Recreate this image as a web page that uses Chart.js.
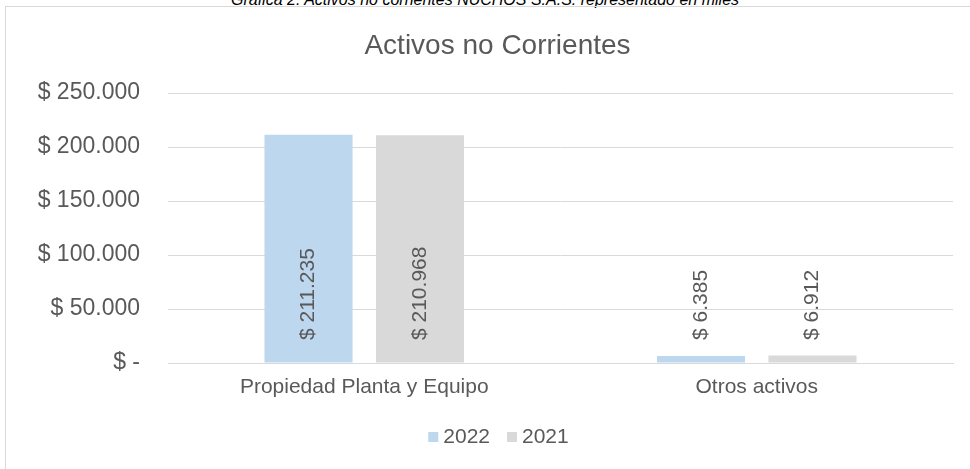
<!DOCTYPE html>
<html>
<head>
<meta charset="utf-8">
<script src="https://cdn.jsdelivr.net/npm/chart.js@4.4.1/dist/chart.umd.min.js"></script>
<style>
  html, body { margin: 0; padding: 0; background: #ffffff; }
  body { width: 970px; height: 469px; position: relative; overflow: hidden; }
  .caption {
    position: absolute; left: 0; top: -9px; width: 970px; text-align: center;
    font-family: "Liberation Sans", Arial, sans-serif; font-style: italic;
    font-size: 16px; line-height: 18px; color: #000000; white-space: nowrap;
  }
  .frame {
    position: absolute; left: 5px; top: 6px; width: 1000px; height: 480px;
    border: 1px solid #d9d9d9; box-sizing: border-box;
  }
  #chartBox { position: absolute; left: 0; top: 0; width: 970px; height: 469px; }
</style>
</head>
<body>
<div class="caption">Gráfica 2. Activos no corrientes NUCHOS S.A.S. representado en miles</div>
<div class="frame"></div>
<div id="chartBox"><canvas id="myChart" width="970" height="469"></canvas></div>
<script>
/******************************************* data **/
const chartTitle = "Activos no Corrientes";
const categories = ["Propiedad Planta y Equipo", "Otros activos"];
const seriesNames = ["2022", "2021"];
const values2022 = [211235, 6385];
const values2021 = [210968, 6912];
const yTicks = [0, 50000, 100000, 150000, 200000, 250000];

const textColor = "#595959";
const fontFamily = "'Liberation Sans', Arial, sans-serif";
// the excel chart area runs past the right edge, so title/legend sit right of canvas center
const headerCenterX = 497.5;

/******************************************* helpers **/
// "$ 211.235" style money labels
function money(v) {
  if (v === 0) return "$ -";
  return "$ " + String(Math.round(v)).replace(/\B(?=(\d{3})+(?!\d))/g, ".");
}

// rotated value labels sitting near the base of each bar
const barLabels = {
  id: "barLabels",
  afterDatasetsDraw(chart) {
    const ctx = chart.ctx;
    const base = chart.scales.y.getPixelForValue(0);
    chart.data.datasets.forEach((ds, i) => {
      chart.getDatasetMeta(i).data.forEach((bar, j) => {
        ctx.save();
        ctx.translate(bar.x, base - 23);
        ctx.rotate(-Math.PI / 2);
        ctx.font = "21px " + fontFamily;
        ctx.fillStyle = textColor;
        ctx.textAlign = "left";
        ctx.textBaseline = "middle";
        ctx.fillText(money(ds.data[j]), 0, 0);
        ctx.restore();
      });
    });
  },
};

// title + legend drawn by hand so they can be centred like the excel original
const header = {
  id: "header",
  afterDraw(chart) {
    const ctx = chart.ctx;
    ctx.save();
    ctx.fillStyle = textColor;
    ctx.textBaseline = "middle";

    // title
    ctx.font = "28px " + fontFamily;
    ctx.textAlign = "center";
    ctx.fillText(chartTitle, headerCenterX, 46);

    // legend
    ctx.font = "21px " + fontFamily;
    ctx.textAlign = "left";
    const box = 10;
    const gapText = 5;
    const gapItem = 17;
    const items = chart.data.datasets.map((ds) => ({
      label: ds.label,
      color: ds.backgroundColor,
      w: ctx.measureText(ds.label).width,
    }));
    let total = 0;
    items.forEach((it, i) => {
      total += box + gapText + it.w + (i > 0 ? gapItem : 0);
    });
    let x = headerCenterX + 1 - total / 2;
    const y = 437;
    items.forEach((it) => {
      ctx.fillStyle = it.color;
      ctx.fillRect(x, y - 5, box, box);
      ctx.fillStyle = textColor;
      ctx.fillText(it.label, x + box + gapText, y);
      x += box + gapText + it.w + gapItem;
    });
    ctx.restore();
  },
};

/******************************************* chart **/
const ctx = document.getElementById("myChart");

const myChart = new Chart(ctx, {
  type: "bar",
  data: {
    labels: categories,
    datasets: [
      {
        label: seriesNames[0],
        data: values2022,
        backgroundColor: "#bdd7ee",
        categoryPercentage: 0.568,
        barPercentage: 0.79,
      },
      {
        label: seriesNames[1],
        data: values2021,
        backgroundColor: "#d9d9d9",
        categoryPercentage: 0.568,
        barPercentage: 0.79,
      },
    ],
  },
  options: {
    responsive: false,
    animation: false,
    layout: { padding: { left: 0, right: 17, top: 93, bottom: 54 } },
    plugins: {
      title: { display: false },
      legend: { display: false },
      tooltip: { enabled: false },
    },
    scales: {
      x: {
        grid: { display: false, drawTicks: false },
        border: { display: true, color: "#d9d9d9", width: 1 },
        ticks: {
          color: textColor,
          font: { family: fontFamily, size: 21 },
          padding: 12,
          maxRotation: 0,
        },
        afterFit(scale) {
          scale.height = 52;
        },
      },
      y: {
        min: 0,
        max: 250000,
        afterBuildTicks(scale) {
          scale.ticks = yTicks.map((v) => ({ value: v }));
        },
        grid: { color: "#d9d9d9", drawTicks: false },
        border: { display: false },
        ticks: {
          color: textColor,
          font: { family: fontFamily, size: 23 },
          padding: 28,
          callback: (v) => money(v),
        },
        afterFit(scale) {
          scale.width = 168;
        },
      },
    },
  },
  plugins: [barLabels, header],
});
</script>
</body>
</html>
